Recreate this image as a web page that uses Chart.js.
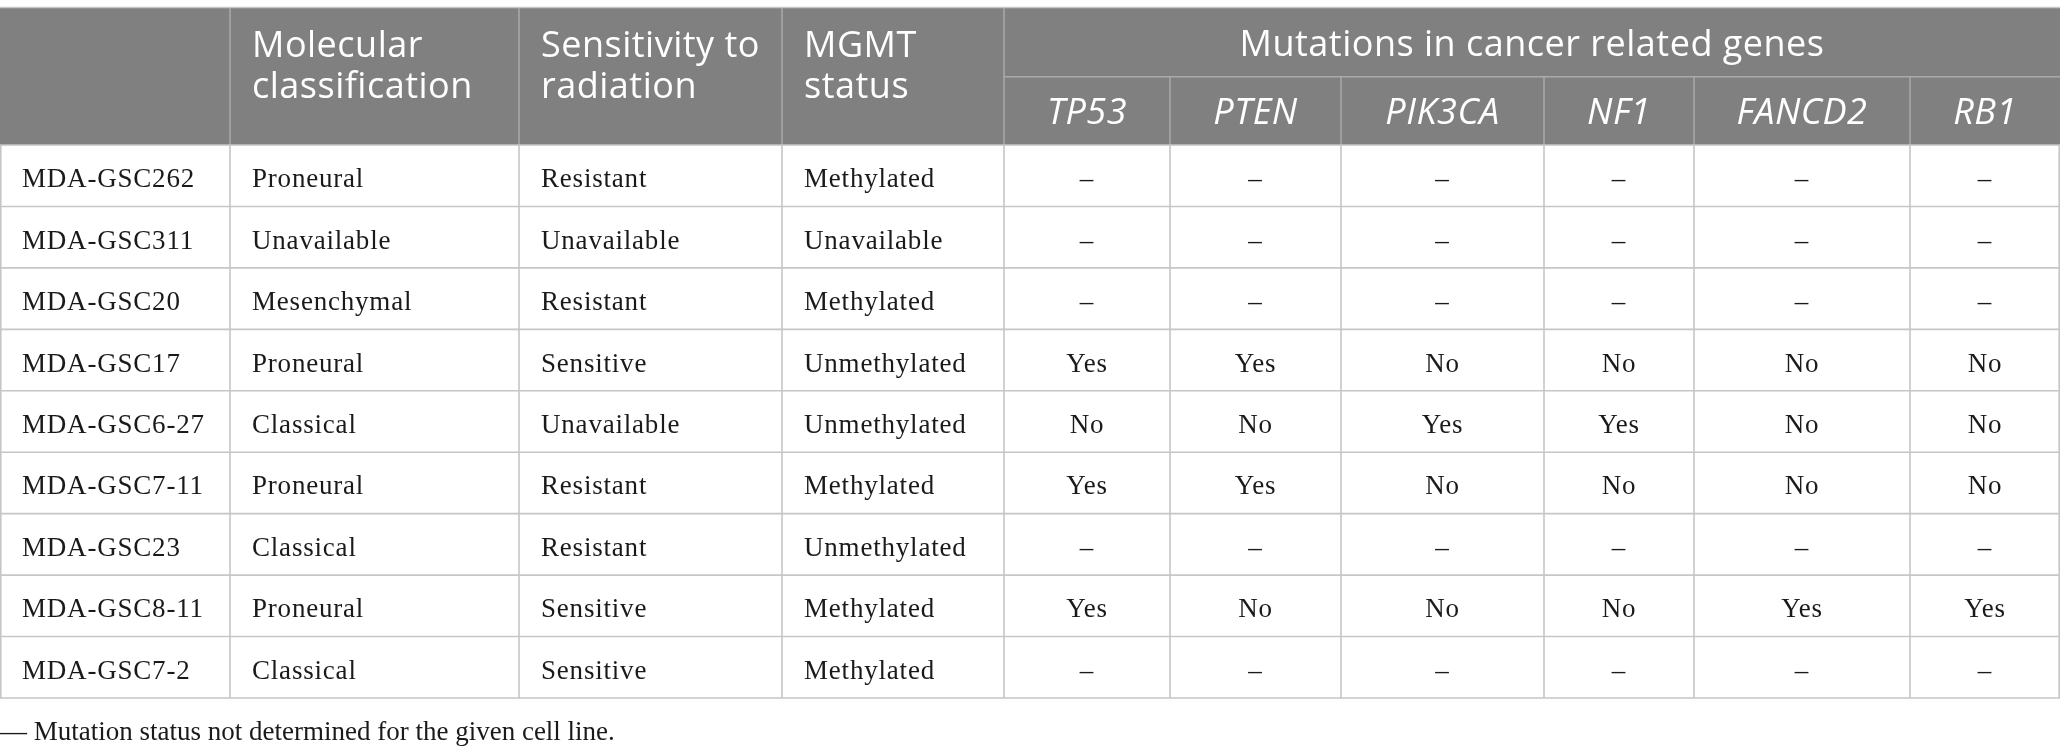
<!DOCTYPE html>
<html><head><meta charset="utf-8">
<script src="https://cdn.jsdelivr.net/npm/chart.js@4.4.0/dist/chart.umd.min.js"></script>
<style>html,body{margin:0;padding:0;background:#fff;overflow:hidden}#wrap{width:2060px;height:754px;position:relative}</style>
</head><body><div id="wrap"><canvas id="c"></canvas></div>
<script>
// ---- data ----
const cellLines = ['MDA-GSC262','MDA-GSC311','MDA-GSC20','MDA-GSC17','MDA-GSC6-27','MDA-GSC7-11','MDA-GSC23','MDA-GSC8-11','MDA-GSC7-2'];
const molecular = ['Proneural','Unavailable','Mesenchymal','Proneural','Classical','Proneural','Classical','Proneural','Classical'];
const radiation = ['Resistant','Unavailable','Resistant','Sensitive','Unavailable','Resistant','Resistant','Sensitive','Sensitive'];
const mgmt = ['Methylated','Unavailable','Methylated','Unmethylated','Unmethylated','Methylated','Unmethylated','Methylated','Methylated'];
const genes = ['TP53','PTEN','PIK3CA','NF1','FANCD2','RB1'];
const TP53   = ['–','–','–','Yes','No','Yes','–','Yes','–'];
const PTEN   = ['–','–','–','Yes','No','Yes','–','No','–'];
const PIK3CA = ['–','–','–','No','Yes','No','–','No','–'];
const NF1    = ['–','–','–','No','Yes','No','–','No','–'];
const FANCD2 = ['–','–','–','No','No','No','–','Yes','–'];
const RB1    = ['–','–','–','No','No','No','–','Yes','–'];
const headerLabels = [[], ['Molecular','classification'], ['Sensitivity to','radiation'], ['MGMT','status']];
const groupHeader = 'Mutations in cancer related genes';
const footnote = '— Mutation status not determined for the given cell line.';

// ---- layout (not data) ----
const colWidths = [230,289,263,222,166,171,203,150,216,150];
const HEADER_TOP = 1.12, HEADER_SUB = 1.11;
const HEADER_H = HEADER_TOP + HEADER_SUB;
const colEdges = [0]; colWidths.forEach(w => colEdges.push(colEdges[colEdges.length-1] + w));
const totalW = colEdges[colEdges.length-1];
const nRows = cellLines.length;
const columns = [cellLines, molecular, radiation, mgmt, TP53, PTEN, PIK3CA, NF1, FANCD2, RB1];

const HEAD_BG = '#7f807f', HEAD_LINE = '#a9aaa9', BODY_LINE = '#c6c6c6', TEXT = '#1a1a1a';
const SERIF = '"Liberation Serif", "Times New Roman", serif';
const SANS = '"Open Sans", "Noto Sans", sans-serif';

const datasets = columns.map((vals, ci) => ({
  label: ci < 4 ? (ci === 0 ? 'Cell line' : headerLabels[ci].join(' ')) : genes[ci-4],
  align: ci < 4 ? 'left' : 'center',
  data: vals.map((v, r) => ({ x: colEdges[ci] + colWidths[ci]/2, y: HEADER_H + r + 0.5, label: v })),
  pointRadius: 0, pointHoverRadius: 0, showLine: false
}));

const tablePlugin = {
  id: 'table',
  beforeDatasetsDraw(chart) {
    const ctx = chart.ctx, xs = chart.scales.x, ys = chart.scales.y;
    const X = v => xs.getPixelForValue(v), Y = v => ys.getPixelForValue(v);
    const left = X(0), right = X(totalW);
    ctx.save();
    ctx.fillStyle = HEAD_BG;
    ctx.fillRect(left, Y(0), right - left, Y(HEADER_H) - Y(0));
    const line = (x1, y1, x2, y2, c, w) => { ctx.strokeStyle = c; ctx.lineWidth = w; ctx.beginPath(); ctx.moveTo(x1, y1); ctx.lineTo(x2, y2); ctx.stroke(); };
    line(left, Y(0) - 0.5, right, Y(0) - 0.5, BODY_LINE, 1.5);
    for (let i = 1; i <= 4; i++) line(X(colEdges[i]), Y(0), X(colEdges[i]), Y(HEADER_H), HEAD_LINE, 1.5);
    for (let i = 5; i < colEdges.length - 1; i++) line(X(colEdges[i]), Y(HEADER_TOP), X(colEdges[i]), Y(HEADER_H), HEAD_LINE, 1.5);
    line(X(colEdges[4]), Y(HEADER_TOP), right, Y(HEADER_TOP), HEAD_LINE, 1.5);
    for (let r = 0; r <= nRows; r++) line(left, Y(HEADER_H + r), right, Y(HEADER_H + r), BODY_LINE, 1.6);
    for (let i = 0; i < colEdges.length; i++) {
      const x = i === 0 ? X(0) + 0.8 : (i === colEdges.length - 1 ? X(totalW) - 0.8 : X(colEdges[i]));
      line(x, Y(HEADER_H), x, Y(HEADER_H + nRows), BODY_LINE, 1.6);
    }
    ctx.restore();
  },
  afterDatasetsDraw(chart) {
    const ctx = chart.ctx, xs = chart.scales.x, ys = chart.scales.y;
    const X = v => xs.getPixelForValue(v), Y = v => ys.getPixelForValue(v);
    ctx.save();
    ctx.textBaseline = 'alphabetic';
    ctx.fillStyle = '#ffffff';
    ctx.font = '36px ' + SANS;
    ctx.letterSpacing = '0.5px';
    ctx.textAlign = 'left';
    headerLabels.forEach((lines, ci) => {
      lines.forEach((t, li) => ctx.fillText(t, X(colEdges[ci]) + 22, Y(0) + 48.5 + li * 41.5));
    });
    ctx.textAlign = 'center';
    ctx.fillText(groupHeader, (X(colEdges[4]) + X(totalW)) / 2, Y(0) + 48);
    ctx.font = 'italic 36px ' + SANS;
    genes.forEach((g, gi) => {
      const ci = gi + 4;
      ctx.fillText(g, X(colEdges[ci] + colWidths[ci] / 2), Y(HEADER_TOP + HEADER_SUB / 2) + 13);
    });
    ctx.fillStyle = TEXT;
    ctx.font = '27px ' + SERIF;
    ctx.letterSpacing = '0.8px';
    chart.data.datasets.forEach((ds, di) => {
      const meta = chart.getDatasetMeta(di);
      meta.data.forEach((pt, ri) => {
        const txt = ds.data[ri].label;
        let x;
        if (ds.align === 'left') { ctx.textAlign = 'left'; x = X(colEdges[di]) + 22; }
        else { ctx.textAlign = 'center'; x = pt.x; }
        ctx.fillText(txt, x, pt.y + 11.5);
      });
    });
    ctx.restore();
  }
};

new Chart(document.getElementById('c'), {
  type: 'scatter',
  data: { datasets },
  options: {
    responsive: true, maintainAspectRatio: false, animation: false,
    devicePixelRatio: 1,
    layout: { padding: { top: 8, left: 0, right: 0, bottom: 0 } },
    scales: {
      x: { type: 'linear', min: 0, max: totalW, display: false },
      y: { type: 'linear', min: 0, max: HEADER_H + nRows, reverse: true, display: false }
    },
    plugins: {
      legend: { display: false },
      tooltip: { enabled: false },
      title: {
        display: true, position: 'bottom', align: 'start', text: footnote,
        color: TEXT, font: { family: SERIF, size: 27, weight: 'normal', lineHeight: 1.2 },
        padding: { top: 19, bottom: 4.6 }
      }
    }
  },
  plugins: [tablePlugin]
});
</script>
</body></html>
